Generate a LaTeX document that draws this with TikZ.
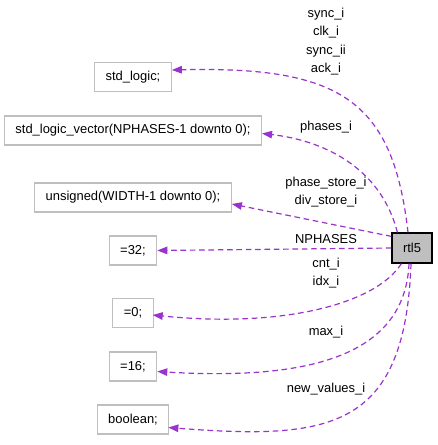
\documentclass[tikz,border=0pt]{standalone}
\usepackage{fontspec}
\setmainfont{Liberation Sans}
\usetikzlibrary{calc,arrows.meta}

\definecolor{edgepurple}{HTML}{9A32CD}
\definecolor{boxgray}{HTML}{BFBFBF}

\tikzset{
  typebox/.style={draw=boxgray, line width=0.9pt, minimum height=21.75pt, inner xsep=8.2pt, inner ysep=0pt},
  edge/.style={edgepurple, line width=0.9pt, dash pattern=on 4.2pt off 2.8pt,
               -{Triangle[length=7.5pt,width=5.6pt]}},
  lbl/.style={align=center, inner sep=0pt}
}

\begin{document}
\begin{tikzpicture}[x=0.75pt, y=-0.75pt, font=\fontsize{9.7}{13.8}\selectfont]

  \useasboundingbox (0,0) rectangle (437,445);

  % ---------- type boxes ----------
  \node[typebox] (std)  at (133,77)    {std\_logic;};
  \node[typebox] (vec)  at (133,130.5) {std\_logic\_vector(NPHASES-1 downto 0);};
  \node[typebox] (uns)  at (133,197.5) {unsigned(WIDTH-1 downto 0);};
  \node[typebox] (c32)  at (133,250.5) {=32;};
  \node[typebox] (c0)   at (133,313)   {=0;};
  \node[typebox] (c16)  at (133,366.5) {=16;};
  \node[typebox] (bool) at (133,419.5) {boolean;};

  % ---------- the entity ----------
  \node[draw=black, fill=boxgray, line width=0.9pt, minimum width=30pt, minimum height=22.5pt,
        inner sep=0pt] (rtl) at (412,248) {rtl5};

  % ---------- member edges ----------
  \draw[edge] ($(rtl.north)+(-4,0)$) .. controls (393,100) and (340,66) .. ($(std.east)+(0,-7)$);
  \draw[edge] ($(rtl.north west)+(6,0)$) .. controls (380,165) and (320,140) .. ($(vec.east)+(0,3)$);
  \draw[edge] ($(rtl.north west)+(0,4)$) -- ($(uns.east)+(0,6.5)$);
  \draw[edge] (rtl.west) -- (c32.east);
  \draw[edge] ($(rtl.south west)+(10,0)$) .. controls (375,305) and (280,328) .. ($(c0.east)+(-1,2)$);
  \draw[edge] ($(rtl.south)+(-3,0)$) .. controls (405,360) and (300,380) .. ($(c16.east)+(0,5)$);
  \draw[edge] ($(rtl.south)+(-1,0)$) .. controls (405,430) and (330,440) .. ($(bool.east)+(-1,8)$);

  % ---------- edge labels ----------
  \node[lbl] (lsync)  at (326,41.5) {sync\_i\\clk\_i\\sync\_ii\\ack\_i};
  \node[lbl] (lphase) at (326,127)  {phases\_i};
  \node[lbl] (lstore) at (326,192)  {phase\_store\_i\\div\_store\_i};
  \node[lbl] (lnph)   at (326,239)  {NPHASES};
  \node[lbl] (lcnt)   at (326,273)  {cnt\_i\\idx\_i};
  \node[lbl] (lmax)   at (326,332)  {max\_i};
  \node[lbl] (lnew)   at (326,389)  {new\_values\_i};

\end{tikzpicture}
\end{document}
